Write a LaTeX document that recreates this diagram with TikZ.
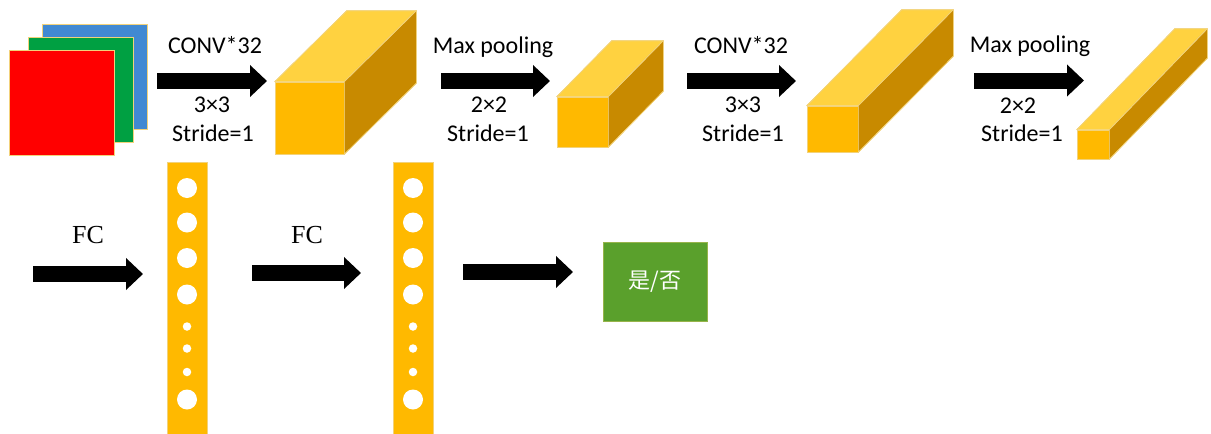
\documentclass[tikz,border=0pt]{standalone}
\usepackage{fontspec}
\setmainfont{Carlito}
\newfontfamily\seriffam{Liberation Serif}
\newfontfamily\cjk{Noto Sans CJK SC}
\usetikzlibrary{arrows.meta,calc}
\definecolor{cfront}{HTML}{FFB900}
\definecolor{ctop}{HTML}{FFD240}
\definecolor{cside}{HTML}{C88A00}
\definecolor{cedge}{HTML}{F2D27A}
\definecolor{cred}{HTML}{FF0000}
\definecolor{cgreen}{HTML}{00A042}
\definecolor{cblue}{HTML}{4189D2}
\definecolor{cbox}{HTML}{5AA02C}
\tikzset{
  lab/.style={font=\fontsize{24}{28}\selectfont, anchor=base, inner sep=0pt},
  fclab/.style={font=\seriffam\fontsize{26}{30}\selectfont, anchor=base, inner sep=0pt},
  fat/.style={line width=16pt, -{Triangle[length=17pt,width=31pt]}},
  sq/.style={draw=cedge, line width=0.6pt, inner sep=0pt, minimum width=105pt, minimum height=105pt},
  front/.style={fill=cfront, draw=cedge, line width=0.6pt, inner sep=0pt},
  topf/.style={fill=ctop, draw=cedge, line width=0.6pt, line join=round},
  sidef/.style={fill=cside, draw=cedge, line width=0.6pt, line join=round},
  bar/.style={fill=cfront, draw=cedge, line width=0.5pt, inner sep=0pt, minimum width=40pt, minimum height=274pt},
  bigc/.style={circle, fill=white, inner sep=0pt, minimum size=20pt},
  smallc/.style={circle, fill=white, inner sep=0pt, minimum size=8.5pt},
}
\newcommand{\cuboid}[5]{% name, center, w, h, offset
  \node[front, minimum width=#3pt, minimum height=#4pt] (#1) at #2 {};
  \fill[topf] (#1.north west) -- ++#5 -- ($(#1.north east)+#5$) -- (#1.north east) -- cycle;
  \fill[sidef] (#1.north east) -- ++#5 -- ($(#1.south east)+#5$) -- (#1.south east) -- cycle;
  \draw[cedge, line width=0.6pt] (#1.north west) -- ++#5 -- ($(#1.north east)+#5$) -- ($(#1.south east)+#5$) -- (#1.south east);
  \draw[cedge, line width=0.6pt] (#1.north east) -- ++#5;
}
\begin{document}
\begin{tikzpicture}[x=1pt,y=-1pt]
\useasboundingbox (0,0) rectangle (1211,434);
% input image stack
\node[sq, fill=cblue] (blue) at (95,76.5) {};
\node[sq, fill=cgreen] (green) at (80.5,89.5) {};
\node[sq, fill=cred] (red) at (62,103) {};
% cuboids
\cuboid{c1}{(309.5,118)}{69}{72}{(72,-71)}
\cuboid{c2}{(582.5,122)}{51}{50}{(55,-56)}
\cuboid{c3}{(832.5,129)}{51}{46}{(95,-96)}
\cuboid{c4}{(1093,144.5)}{32}{29}{(98,-101)}
% top arrows
\coordinate (a1s) at (157,81); \coordinate (a1e) at (267,81);
\coordinate (a2s) at (441,81); \coordinate (a2e) at (550,81);
\coordinate (a3s) at (687,81); \coordinate (a3e) at (796,81);
\coordinate (a4s) at (974,80.5); \coordinate (a4e) at (1084,80.5);
\draw[fat] (a1s) -- (a1e);
\draw[fat] (a2s) -- (a2e);
\draw[fat] (a3s) -- (a3e);
\draw[fat] (a4s) -- (a4e);
% top labels
\node[lab] (t1a) at (215,53) {CONV*32};
\node[lab] (t1b) at (212,112) {3×3};
\node[lab] (t1c) at (213,141) {Stride=1};
\node[lab] (t2a) at (493,53) {Max pooling};
\node[lab] (t2b) at (489,112) {2×2};
\node[lab] (t2c) at (488,141) {Stride=1};
\node[lab] (t3a) at (741,53) {CONV*32};
\node[lab] (t3b) at (743,112) {3×3};
\node[lab] (t3c) at (743,141) {Stride=1};
\node[lab] (t4a) at (1030,52) {Max pooling};
\node[lab] (t4b) at (1018,113) {2×2};
\node[lab] (t4c) at (1022,141) {Stride=1};
% bottom row
\node[bar] (b1) at (187,299) {};
\node[bar] (b2) at (413,299) {};
\foreach \b in {b1,b2}{
  \foreach \yy/\k in {188/1,222.5/2,258/3,294.5/4,399.5/8}{
    \node[bigc] (\b c\k) at ($(\b.center)+(0,\yy-299)$) {};
  }
  \foreach \yy/\k in {326.5/5,348.5/6,372/7}{
    \node[smallc] (\b c\k) at ($(\b.center)+(0,\yy-299)$) {};
  }
}
\coordinate (a5s) at (33,274); \coordinate (a5e) at (143,274);
\coordinate (a6s) at (252,273); \coordinate (a6e) at (361,273);
\coordinate (a7s) at (463,272); \coordinate (a7e) at (573,272);
\draw[fat] (a5s) -- (a5e);
\draw[fat] (a6s) -- (a6e);
\draw[fat] (a7s) -- (a7e);
\node[fclab] (fc1) at (88,243) {FC};
\node[fclab] (fc2) at (307,243) {FC};
\node[fill=cbox, draw=cedge!40!cbox, line width=0.4pt, minimum width=104pt, minimum height=79pt, inner sep=0pt,
      font=\cjk\fontsize{22}{26}\selectfont, text=white] (out) at (655,281.5) {是/否};
\end{tikzpicture}
\end{document}
